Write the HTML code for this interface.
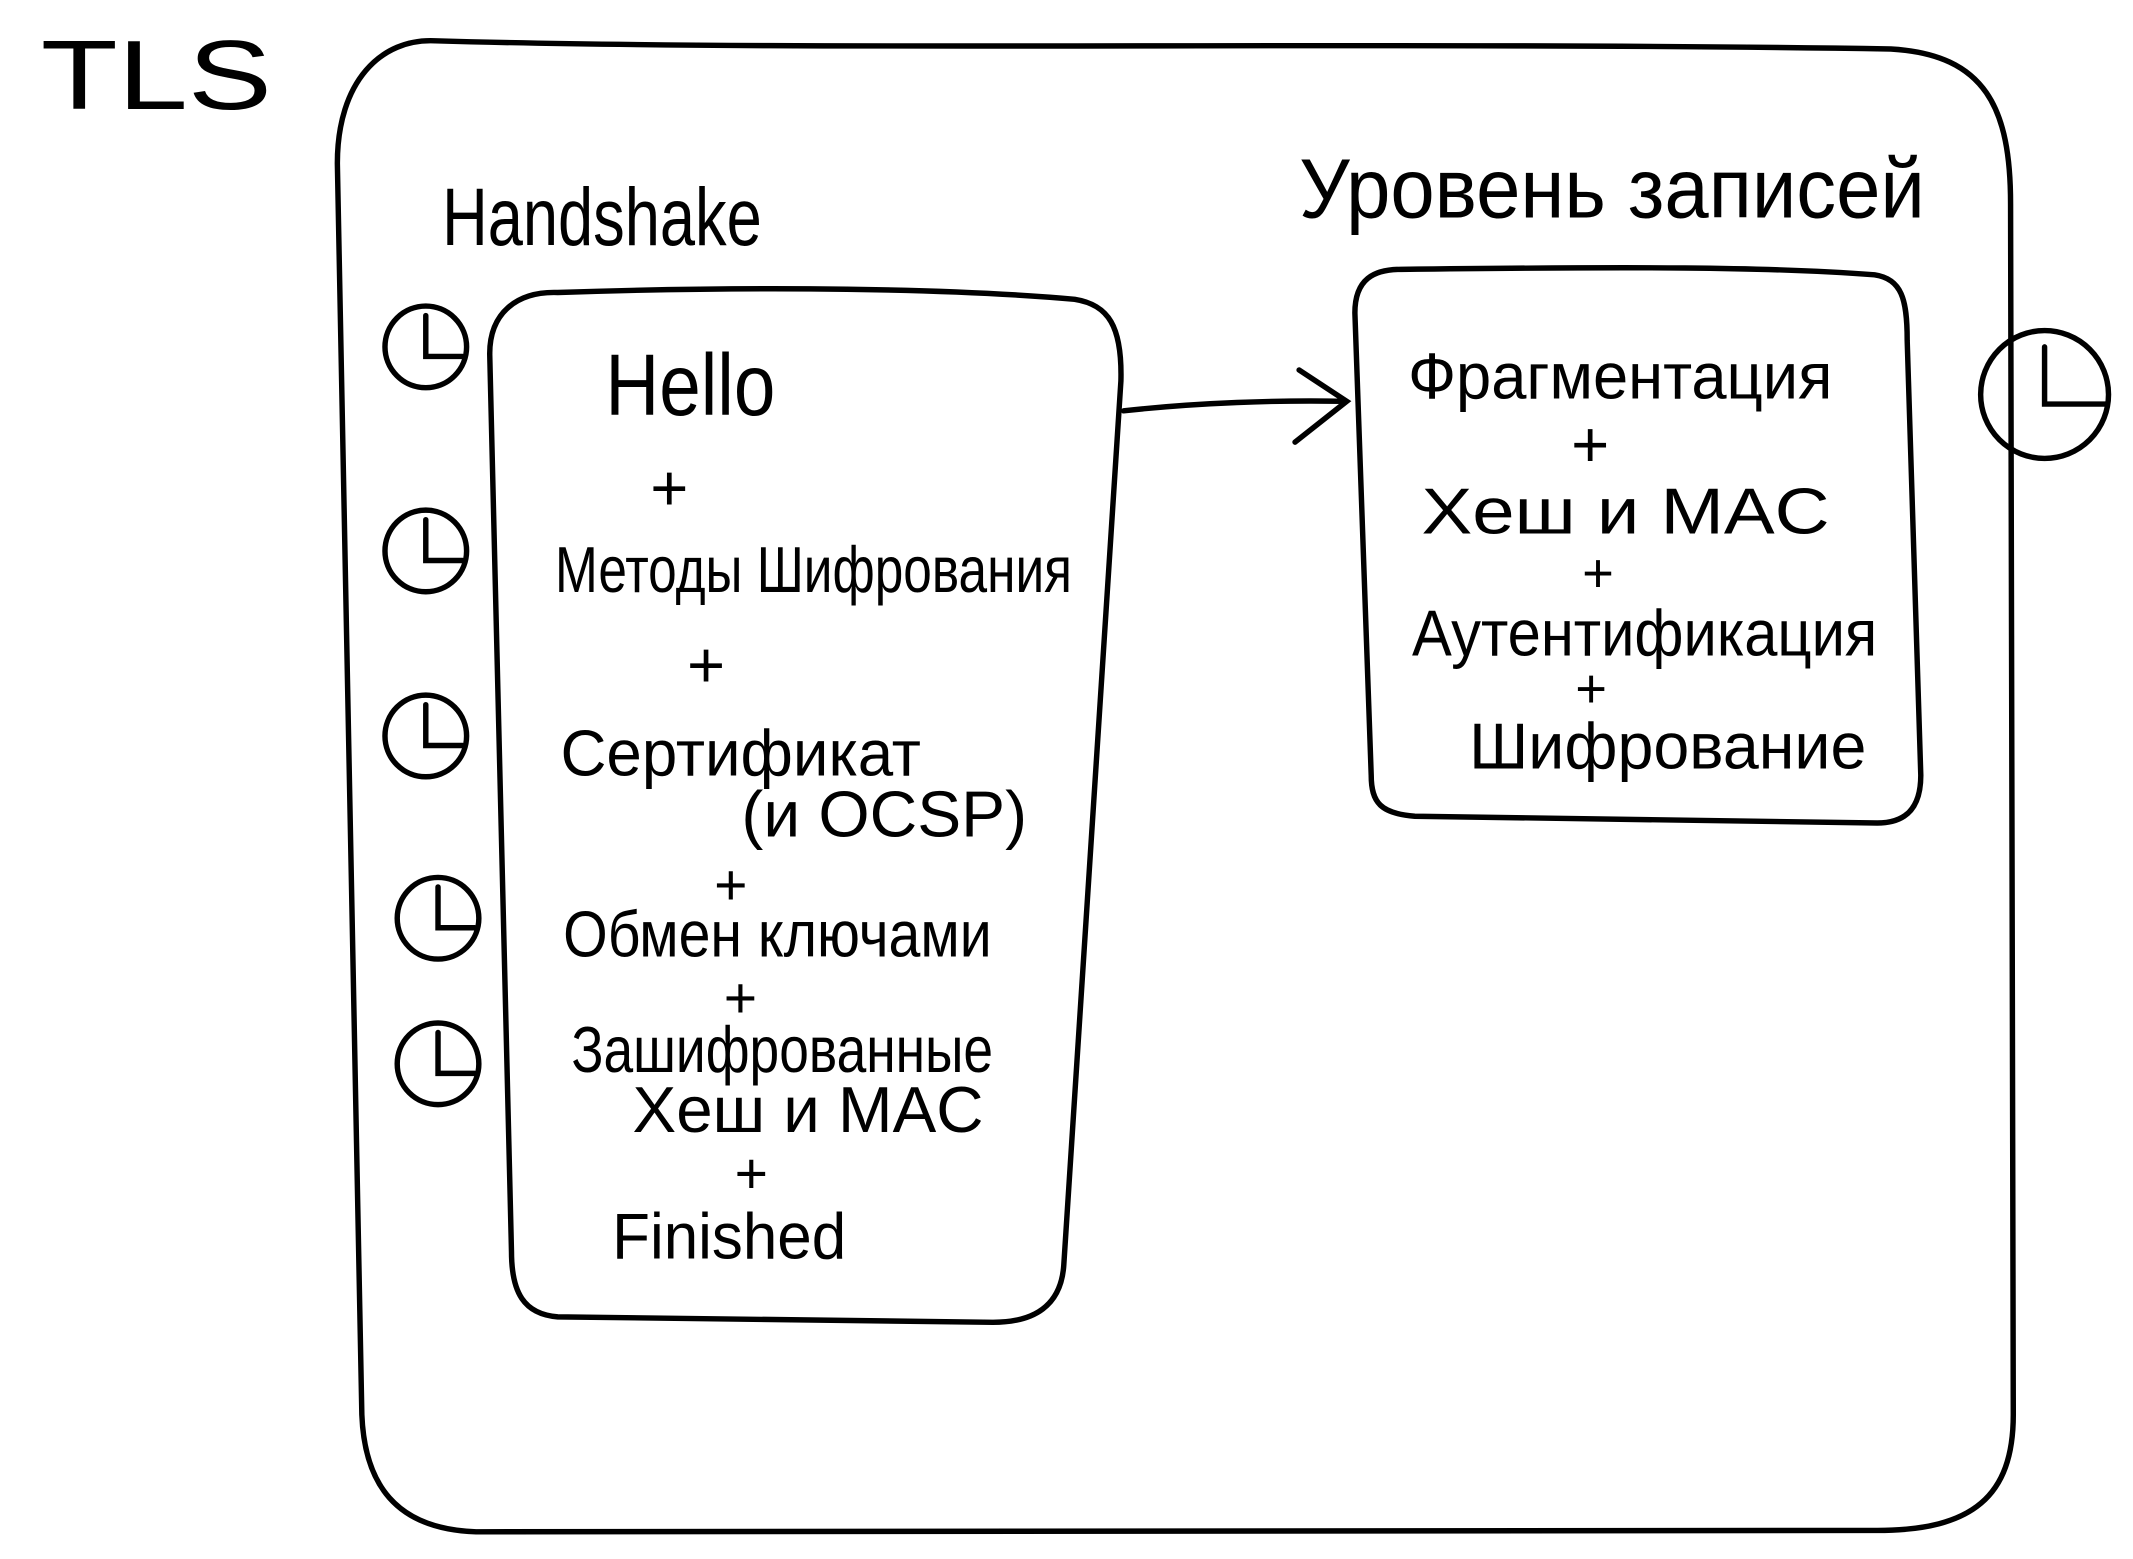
<!DOCTYPE html>
<html><head><meta charset="utf-8"><style>
html,body{margin:0;padding:0;background:#fff;width:2133px;height:1559px;overflow:hidden}
svg{display:block}
text{font-family:"Liberation Sans Narrow","Liberation Sans","DejaVu Sans",sans-serif;fill:#000}
</style></head><body>
<svg width="2133" height="1559" viewBox="0 0 1568 1146" preserveAspectRatio="none">
<g fill="none" stroke="#000" stroke-width="4" stroke-linecap="round">
<path d="M320 30 C600 38 1000 30 1390 36 C1460 40 1478 80 1478 150 L1480 1040 C1480 1100 1450 1125 1380 1125 L350 1126 C290 1124 268 1090 266 1040 L248 120 C248 60 280 28 320 30 Z"/>
<path d="M410 215 C560 210 700 212 790 220 C815 224 825 240 824 280 L782 930 C780 960 760 972 730 972 L410 968 C385 966 376 950 376 920 L360 260 C360 230 380 214 410 215 Z"/>
<path d="M1030 198 C1200 196 1300 196 1378 202 C1398 205 1402 220 1402 250 L1412 570 C1412 595 1400 605 1380 605 L1040 600 C1015 598 1008 590 1008 570 L996 230 C996 205 1010 198 1030 198 Z"/>
<path d="M826 302 C880 296 940 294 988 295"/>
<path d="M955 272 L990 295 L952 325"/>
<circle cx="313" cy="255" r="30"/><path d="M313 232 V262 H340"/>
<circle cx="313" cy="405" r="30"/><path d="M313 382 V412 H340"/>
<circle cx="313" cy="541" r="30"/><path d="M313 518 V548 H340"/>
<circle cx="322" cy="675" r="30"/><path d="M322 652 V682 H349"/>
<circle cx="322" cy="782" r="30"/><path d="M322 759 V789 H349"/>
<circle cx="1503" cy="290" r="47"/><path d="M1503 255 V297 H1548"/>
</g>
<text x="30" y="80" font-size="72" textLength="170" lengthAdjust="spacingAndGlyphs">TLS</text>
<text x="325" y="180" font-size="60" textLength="235" lengthAdjust="spacingAndGlyphs">Handshake</text>
<text x="955" y="160" font-size="62" textLength="460" lengthAdjust="spacingAndGlyphs">Уровень записей</text>
<g font-size="48">
<text x="445" y="305" font-size="64" textLength="125" lengthAdjust="spacingAndGlyphs">Hello</text>
<text x="478" y="375">+</text>
<text x="408" y="435" textLength="380" lengthAdjust="spacingAndGlyphs">Методы Шифрования</text>
<text x="505" y="505">+</text>
<text x="412" y="570" textLength="265" lengthAdjust="spacingAndGlyphs">Сертификат</text>
<text x="545" y="615" textLength="210" lengthAdjust="spacingAndGlyphs">(и OCSP)</text>
<text x="525" y="665" font-size="42">+</text>
<text x="414" y="703" textLength="315" lengthAdjust="spacingAndGlyphs">Обмен ключами</text>
<text x="532" y="748" font-size="42">+</text>
<text x="420" y="788" textLength="310" lengthAdjust="spacingAndGlyphs">Зашифрованные</text>
<text x="465" y="832" textLength="258" lengthAdjust="spacingAndGlyphs">Хеш и MAC</text>
<text x="540" y="877" font-size="42">+</text>
<text x="450" y="925" textLength="172" lengthAdjust="spacingAndGlyphs">Finished</text>
<text x="1035" y="293" textLength="312" lengthAdjust="spacingAndGlyphs">Фрагментация</text>
<text x="1155" y="343">+</text>
<text x="1045" y="392" textLength="300" lengthAdjust="spacingAndGlyphs">Хеш и  MAC</text>
<text x="1163" y="435" font-size="40">+</text>
<text x="1038" y="482" textLength="342" lengthAdjust="spacingAndGlyphs">Аутентификация</text>
<text x="1158" y="520" font-size="40">+</text>
<text x="1080" y="565" textLength="292" lengthAdjust="spacingAndGlyphs">Шифрование</text>
</g>
</svg>
</body></html>
